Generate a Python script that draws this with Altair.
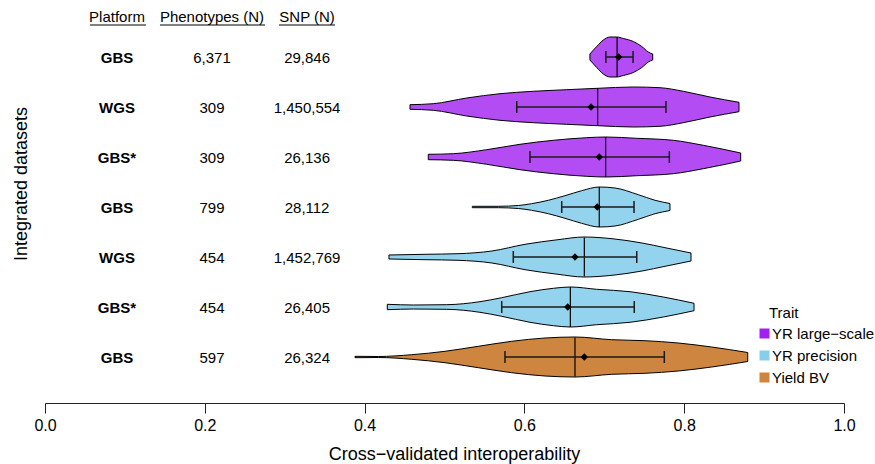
import altair as alt
import pandas as pd

FONT = "Liberation Sans, Arial, Helvetica, sans-serif"

# ---------------- data (top row first) ----------------
platforms = ["GBS", "WGS", "GBS*", "GBS", "WGS", "GBS*", "GBS"]
phenotypes = ["6,371", "309", "309", "799", "454", "454", "597"]
snps = ["29,846", "1,450,554", "26,136", "28,112", "1,452,769", "26,405", "26,324"]
traits = ["YR large−scale"] * 3 + ["YR precision"] * 3 + ["Yield BV"]
trait_order = ["YR large−scale", "YR precision", "Yield BV"]

# violin outline: x positions and half-widths
violin_x = [
    [0.682, 0.6905, 0.6988, 0.7071, 0.7155, 0.7238, 0.7363, 0.7469, 0.7551, 0.7606],
    [0.4568, 0.486, 0.5278, 0.5695, 0.6111, 0.6529, 0.6917, 0.7363, 0.7697, 0.7989, 0.8323, 0.8686],
    [0.4797, 0.511, 0.5528, 0.5945, 0.6362, 0.678, 0.7018, 0.7406, 0.7864, 0.8239, 0.8707],
    [0.5348, 0.5673, 0.5924, 0.6091, 0.6299, 0.6508, 0.6717, 0.6937, 0.7134, 0.7426, 0.7635, 0.7822],
    [0.4305, 0.4756, 0.5169, 0.5594, 0.6008, 0.6421, 0.6746, 0.7096, 0.7472, 0.776, 0.8085],
    [0.4284, 0.461, 0.5028, 0.5444, 0.5716, 0.607, 0.6362, 0.6575, 0.6905, 0.7322, 0.7738, 0.8123],
    [0.388, 0.4171, 0.459, 0.5006, 0.5423, 0.5841, 0.6258, 0.6633, 0.7093, 0.7509, 0.7926, 0.8344, 0.8795],
]
violin_hw = [
    [0.06, 0.21, 0.34, 0.40, 0.40, 0.37, 0.31, 0.21, 0.10, 0.06],
    [0.046, 0.066, 0.18, 0.266, 0.314, 0.346, 0.374, 0.40, 0.386, 0.314, 0.20, 0.094],
    [0.054, 0.066, 0.146, 0.254, 0.334, 0.386, 0.40, 0.374, 0.334, 0.234, 0.08],
    [0.014, 0.014, 0.03, 0.066, 0.134, 0.226, 0.326, 0.40, 0.38, 0.246, 0.134, 0.07],
    [0.04, 0.054, 0.066, 0.12, 0.254, 0.346, 0.40, 0.366, 0.28, 0.186, 0.08],
    [0.054, 0.04, 0.046, 0.106, 0.186, 0.306, 0.374, 0.40, 0.354, 0.306, 0.20, 0.074],
    [0.014, 0.01, 0.046, 0.114, 0.214, 0.314, 0.38, 0.40, 0.346, 0.326, 0.28, 0.20, 0.09],
]
means = [0.718, 0.6834, 0.6937, 0.6912, 0.6633, 0.6542, 0.675]
medians = [0.716, 0.6917, 0.7017, 0.6937, 0.675, 0.6575, 0.6633]
err_lo = [0.702, 0.5904, 0.607, 0.6467, 0.5861, 0.5716, 0.5757]
err_hi = [0.736, 0.7772, 0.7814, 0.7372, 0.7406, 0.7375, 0.7751]
median_hw = [0.40, 0.38, 0.40, 0.40, 0.39, 0.40, 0.39]

headers = ["Platform", "Phenotypes (N)", "SNP (N)"]

# ---------------- layout / style ----------------
rows = [7 - i for i in range(7)]
col_x = [0.0901, 0.209, 0.328]
header_l = [0.0563, 0.1439, 0.2929]
header_r = [0.1264, 0.2753, 0.363]
cap_hw = 0.12
legend_colors = ["#A020F0", "#87CEEB", "#CD853F"]

xscale = alt.Scale(domain=[0, 1], nice=False, zero=False)
yscale = alt.Scale(domain=[0.08, 7.98], nice=False, zero=False)

vrec = []
for i, (xs, hs) in enumerate(zip(violin_x, violin_hw)):
    for x, h in zip(xs, hs):
        vrec.append(dict(row=i, trait=traits[i], x=x, lo=rows[i] - h, hi=rows[i] + h))
vdf = pd.DataFrame(vrec)

sdf = pd.DataFrame(dict(
    y=rows, mean=means, median=medians, elo=err_lo, ehi=err_hi,
    mlo=[r - h for r, h in zip(rows, median_hw)],
    mhi=[r + h for r, h in zip(rows, median_hw)],
))
cdf = pd.DataFrame(dict(
    x=err_lo + err_hi,
    ylo=[r - cap_hw for r in rows] * 2,
    yhi=[r + cap_hw for r in rows] * 2,
))
tdf = pd.DataFrame(dict(y=rows, platform=platforms, pheno=phenotypes, snp=snps))
hdf = pd.DataFrame(dict(label=headers, x=col_x, xl=header_l, xr=header_r))

x_axis = alt.Axis(
    values=[0, 0.2, 0.4, 0.6, 0.8, 1.0], format=".1f",
    title="Cross−validated interoperability", grid=False,
    tickSize=10, tickColor="#222", domainColor="#222", tickWidth=1, domainWidth=1,
    labelFontSize=16, labelFont=FONT, labelColor="black", labelPadding=4,
    labelFlush=False, labelOverlap=False,
    titleFontSize=18, titleFont=FONT, titleColor="black", titleFontWeight="normal",
    titlePadding=12, titleX=409,
)

def XQ(field):
    return alt.X(field, scale=xscale, axis=x_axis)

def YQ(field):
    return alt.Y(field, scale=yscale, axis=None)

violins = alt.Chart(vdf).mark_area(
    stroke="black", strokeWidth=1, interpolate="monotone"
).encode(
    x=XQ("x:Q"),
    y=YQ("lo:Q"),
    y2="hi:Q",
    color=alt.Color(
        "trait:N",
        scale=alt.Scale(domain=trait_order, range=legend_colors),
        legend=alt.Legend(
            title=None, orient="none", legendX=712, legendY=318,
            symbolType="square", symbolSize=100, symbolStrokeWidth=0,
            symbolOpacity=1, labelFontSize=15, labelFont=FONT, labelColor="black",
            labelOffset=0, rowPadding=6, padding=0, labelLimit=300,
        ),
    ),
    fillOpacity=alt.FillOpacity(
        "trait:N", scale=alt.Scale(domain=trait_order, range=[0.8, 1, 1]), legend=None
    ),
    detail="row:N",
)

median_rule = alt.Chart(sdf).mark_rule(color="black", strokeWidth=1.2).encode(
    x=XQ("median:Q"), y=YQ("mlo:Q"), y2="mhi:Q",
)
err_rule = alt.Chart(sdf).mark_rule(color="#1a1a1a", strokeWidth=1.5).encode(
    x=XQ("elo:Q"), x2="ehi:Q", y=YQ("y:Q"),
)
caps = alt.Chart(cdf).mark_rule(color="#1a1a1a", strokeWidth=1.5).encode(
    x=XQ("x:Q"), y=YQ("ylo:Q"), y2="yhi:Q",
)
mean_pt = alt.Chart(sdf).mark_point(
    shape="diamond", filled=True, color="black", size=55, opacity=1
).encode(
    x=XQ("mean:Q"), y=YQ("y:Q"),
)

def col_text(field, xval, bold=False):
    return alt.Chart(tdf).mark_text(
        font=FONT, fontSize=15, fontWeight="bold" if bold else "normal",
        align="center", baseline="alphabetic", dy=5.5, color="black",
    ).encode(
        x=alt.XDatum(xval, scale=xscale, axis=x_axis),
        y=YQ("y:Q"),
        text=f"{field}:N",
    )

t_plat = col_text("platform", col_x[0], bold=True)
t_pheno = col_text("pheno", col_x[1])
t_snp = col_text("snp", col_x[2])

head_text = alt.Chart(hdf).mark_text(
    font=FONT, fontSize=15, align="center", baseline="alphabetic", color="black"
).encode(
    x=XQ("x:Q"),
    y=alt.value(14),
    text="label:N",
)
head_line = alt.Chart(hdf).mark_rule(color="black", strokeWidth=1).encode(
    x=XQ("xl:Q"),
    x2="xr:Q",
    y=alt.value(17),
)

ytitle = alt.Chart(pd.DataFrame({"t": ["Integrated datasets"]})).mark_text(
    font=FONT, fontSize=18, angle=270, align="center", baseline="middle", color="black"
).encode(text="t:N", x=alt.value(-23), y=alt.value(176))

trait_title = alt.Chart(pd.DataFrame({"t": ["Trait"]})).mark_text(
    font=FONT, fontSize=15, align="left", baseline="alphabetic", color="black"
).encode(text="t:N", x=alt.value(724), y=alt.value(310))

chart = alt.layer(
    violins, median_rule, err_rule, caps, mean_pt,
    t_plat, t_pheno, t_snp, head_text, head_line, ytitle, trait_title,
).properties(
    width=799, height=395,
    autosize="none",
    padding={"left": 45, "top": 8, "right": 31, "bottom": 61},
    background="white",
).configure_view(stroke=None)

chart.save("out.html", embed_options={"renderer": "svg", "actions": False})
